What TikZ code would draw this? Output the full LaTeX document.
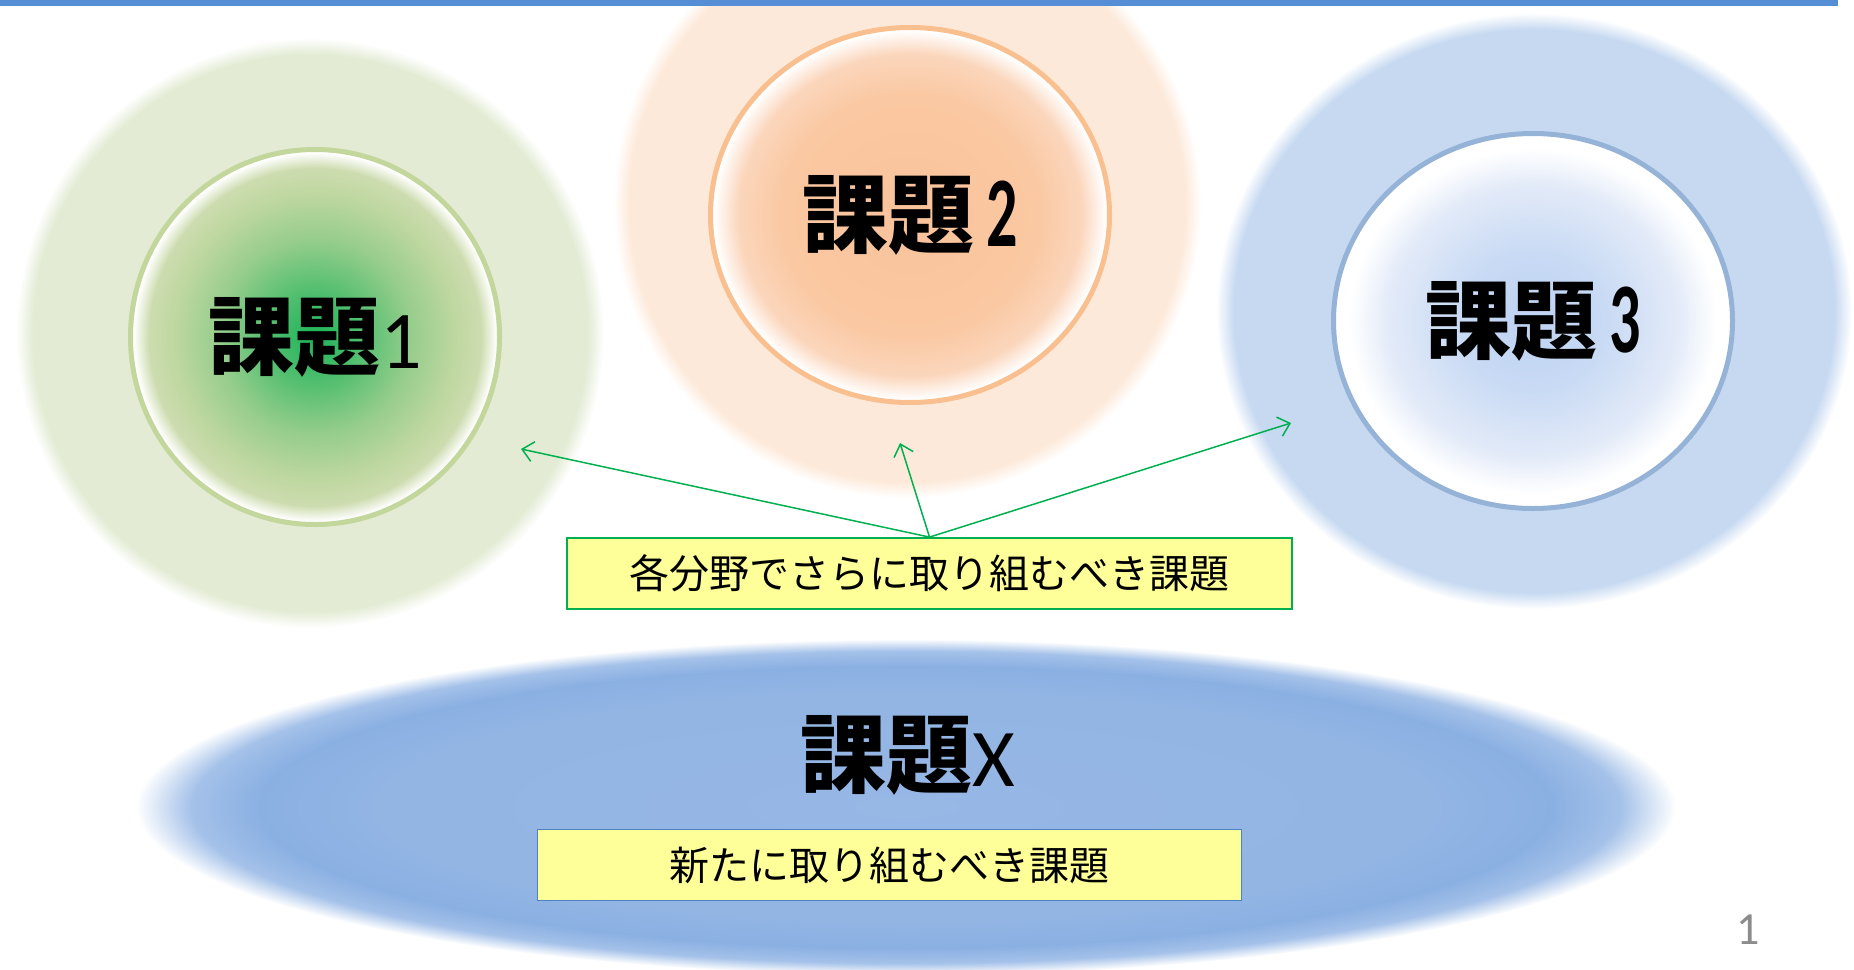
\documentclass[tikz,border=0pt]{standalone}
\usepackage{fontspec}
\newfontfamily\jpfont{Noto Sans CJK JP}
\newfontfamily\latinfont{Carlito}
\newfontfamily\latinnarrow{Carlito}[FakeStretch=0.62]
\usetikzlibrary{shapes.geometric,arrows.meta}

\definecolor{topbar}{HTML}{558ED5}
\definecolor{halogreen}{HTML}{E3EBD4}
\definecolor{haloorange}{HTML}{FDE9D9}
\definecolor{haloblue}{HTML}{C6D9F1}
\definecolor{ringgreen}{HTML}{C3D69B}
\definecolor{ringorange}{HTML}{F9BF8F}
\definecolor{ringblue}{HTML}{95B3D7}
\definecolor{noteyellow}{HTML}{FFFF99}
\definecolor{arrowgreen}{HTML}{00B050}
\definecolor{noteblue}{HTML}{4F81BD}
\definecolor{pagegray}{HTML}{8C8C8C}
% colours of the soft fills
\definecolor{gA}{HTML}{1EB45A}
\definecolor{gB}{HTML}{50BE6E}
\definecolor{gC}{HTML}{96CD8C}
\definecolor{gD}{HTML}{BED7A0}
\definecolor{gE}{HTML}{CDDCAF}
\definecolor{oA}{HTML}{F9C39B}
\definecolor{oB}{HTML}{FAC8A2}
\definecolor{oC}{HTML}{FBD6BC}
\definecolor{bA}{HTML}{BED2F2}
\definecolor{bB}{HTML}{C8DAF4}
\definecolor{bC}{HTML}{E2EAF8}
\definecolor{xA}{HTML}{97B7E5}
\definecolor{xB}{HTML}{92B5E4}
\definecolor{xC}{HTML}{8AB0E2}
\definecolor{xD}{HTML}{A4C1E9}

\pgfdeclareradialshading{halo1}{\pgfpoint{0bp}{0bp}}{color(0bp)=(halogreen); color(23.6bp)=(halogreen); color(25bp)=(white); color(50bp)=(white)}
\pgfdeclareradialshading{halo2}{\pgfpoint{0bp}{0bp}}{color(0bp)=(haloorange); color(23.6bp)=(haloorange); color(25bp)=(white); color(50bp)=(white)}
\pgfdeclareradialshading{halo3}{\pgfpoint{0bp}{0bp}}{color(0bp)=(haloblue); color(23.6bp)=(haloblue); color(25bp)=(white); color(50bp)=(white)}
\pgfdeclareradialshading{fill1}{\pgfpoint{0bp}{0bp}}{color(0bp)=(gA); color(6bp)=(gB); color(13bp)=(gC); color(19bp)=(gD); color(22.5bp)=(gE); color(24.6bp)=(white); color(50bp)=(white)}
\pgfdeclareradialshading{fill2}{\pgfpoint{0bp}{0bp}}{color(0bp)=(oA); color(16bp)=(oB); color(21.5bp)=(oC); color(24.6bp)=(white); color(50bp)=(white)}
\pgfdeclareradialshading{fill3}{\pgfpoint{0bp}{0bp}}{color(0bp)=(bA); color(9bp)=(bB); color(18bp)=(bC); color(23bp)=(white); color(50bp)=(white)}
\pgfdeclareradialshading{fillx}{\pgfpoint{0bp}{0bp}}{color(0bp)=(xA); color(17bp)=(xB); color(21bp)=(xC); color(23.2bp)=(xD); color(25bp)=(white); color(50bp)=(white)}

\newcommand\titlefont{\jpfont\bfseries\fontsize{86}{86}\selectfont}
\newcommand\notefont{\jpfont\fontsize{40}{40}\selectfont}
\newcommand\plainnum[1]{{\latinfont\mdseries\fontsize{82}{82}\selectfont #1}}
\newcommand\narrownum[1]{\hspace{12pt}{\latinnarrow\bfseries\fontsize{100}{100}\selectfont #1}}

\begin{document}
\begin{tikzpicture}[x=1pt, y=-1pt,
  bubble/.style={ellipse, shade, line width=5pt, inner sep=0pt, font=\titlefont},
  notebox/.style={rectangle, fill=noteyellow, line width=1.8pt,
    minimum width=725pt, minimum height=71pt, inner sep=0pt, font=\notefont},
  pointer/.style={->, >={Straight Barb[length=11pt, width=20pt, line width=1.5pt]},
    draw=arrowgreen, line width=1.5pt},
  ]
\useasboundingbox (0,0) rectangle (1854,969);
\clip (0,0) rectangle (1854,969);

% soft halos
\shade[shading=halo1] (310,333) ellipse [x radius=294pt, y radius=295pt];
\shade[shading=halo2] (907,204) ellipse [x radius=294pt, y radius=294pt];
\shade[shading=halo3] (1534,311) ellipse [x radius=318pt, y radius=298pt];
\shade[shading=fillx] (906,807) ellipse [x radius=770pt, y radius=168pt];

\fill[topbar] (0,0) rectangle (1838,6);

\node[bubble, shading=fill1, draw=ringgreen, minimum width=369pt, minimum height=375pt] (t1) at (315,337) {課題\plainnum{1}};
\node[bubble, shading=fill2, draw=ringorange, minimum width=399pt, minimum height=375pt] (t2) at (910,215) {課題\narrownum{2}};
\node[bubble, shading=fill3, draw=ringblue, minimum width=399pt, minimum height=375pt] (t3) at (1533,321) {課題\narrownum{3}};
\node[font=\titlefont, inner sep=0pt] (tx) at (908,755) {課題\plainnum{X}};

\node[notebox, draw=arrowgreen] (field) at (929.5,573.5) {各分野でさらに取り組むべき課題};
\node[notebox, draw=noteblue, minimum width=704pt] (new) at (889.5,865) {新たに取り組むべき課題};

\coordinate (p1) at (521,449);
\coordinate (p2) at (900,443);
\coordinate (p3) at (1291,423);
\draw[pointer] (field.north) -- (p1);
\draw[pointer] (field.north) -- (p2);
\draw[pointer] (field.north) -- (p3);

\node[text=pagegray, font=\latinfont\fontsize{46}{46}\selectfont, inner sep=0pt] (page) at (1748,930) {1};
\end{tikzpicture}
\end{document}
